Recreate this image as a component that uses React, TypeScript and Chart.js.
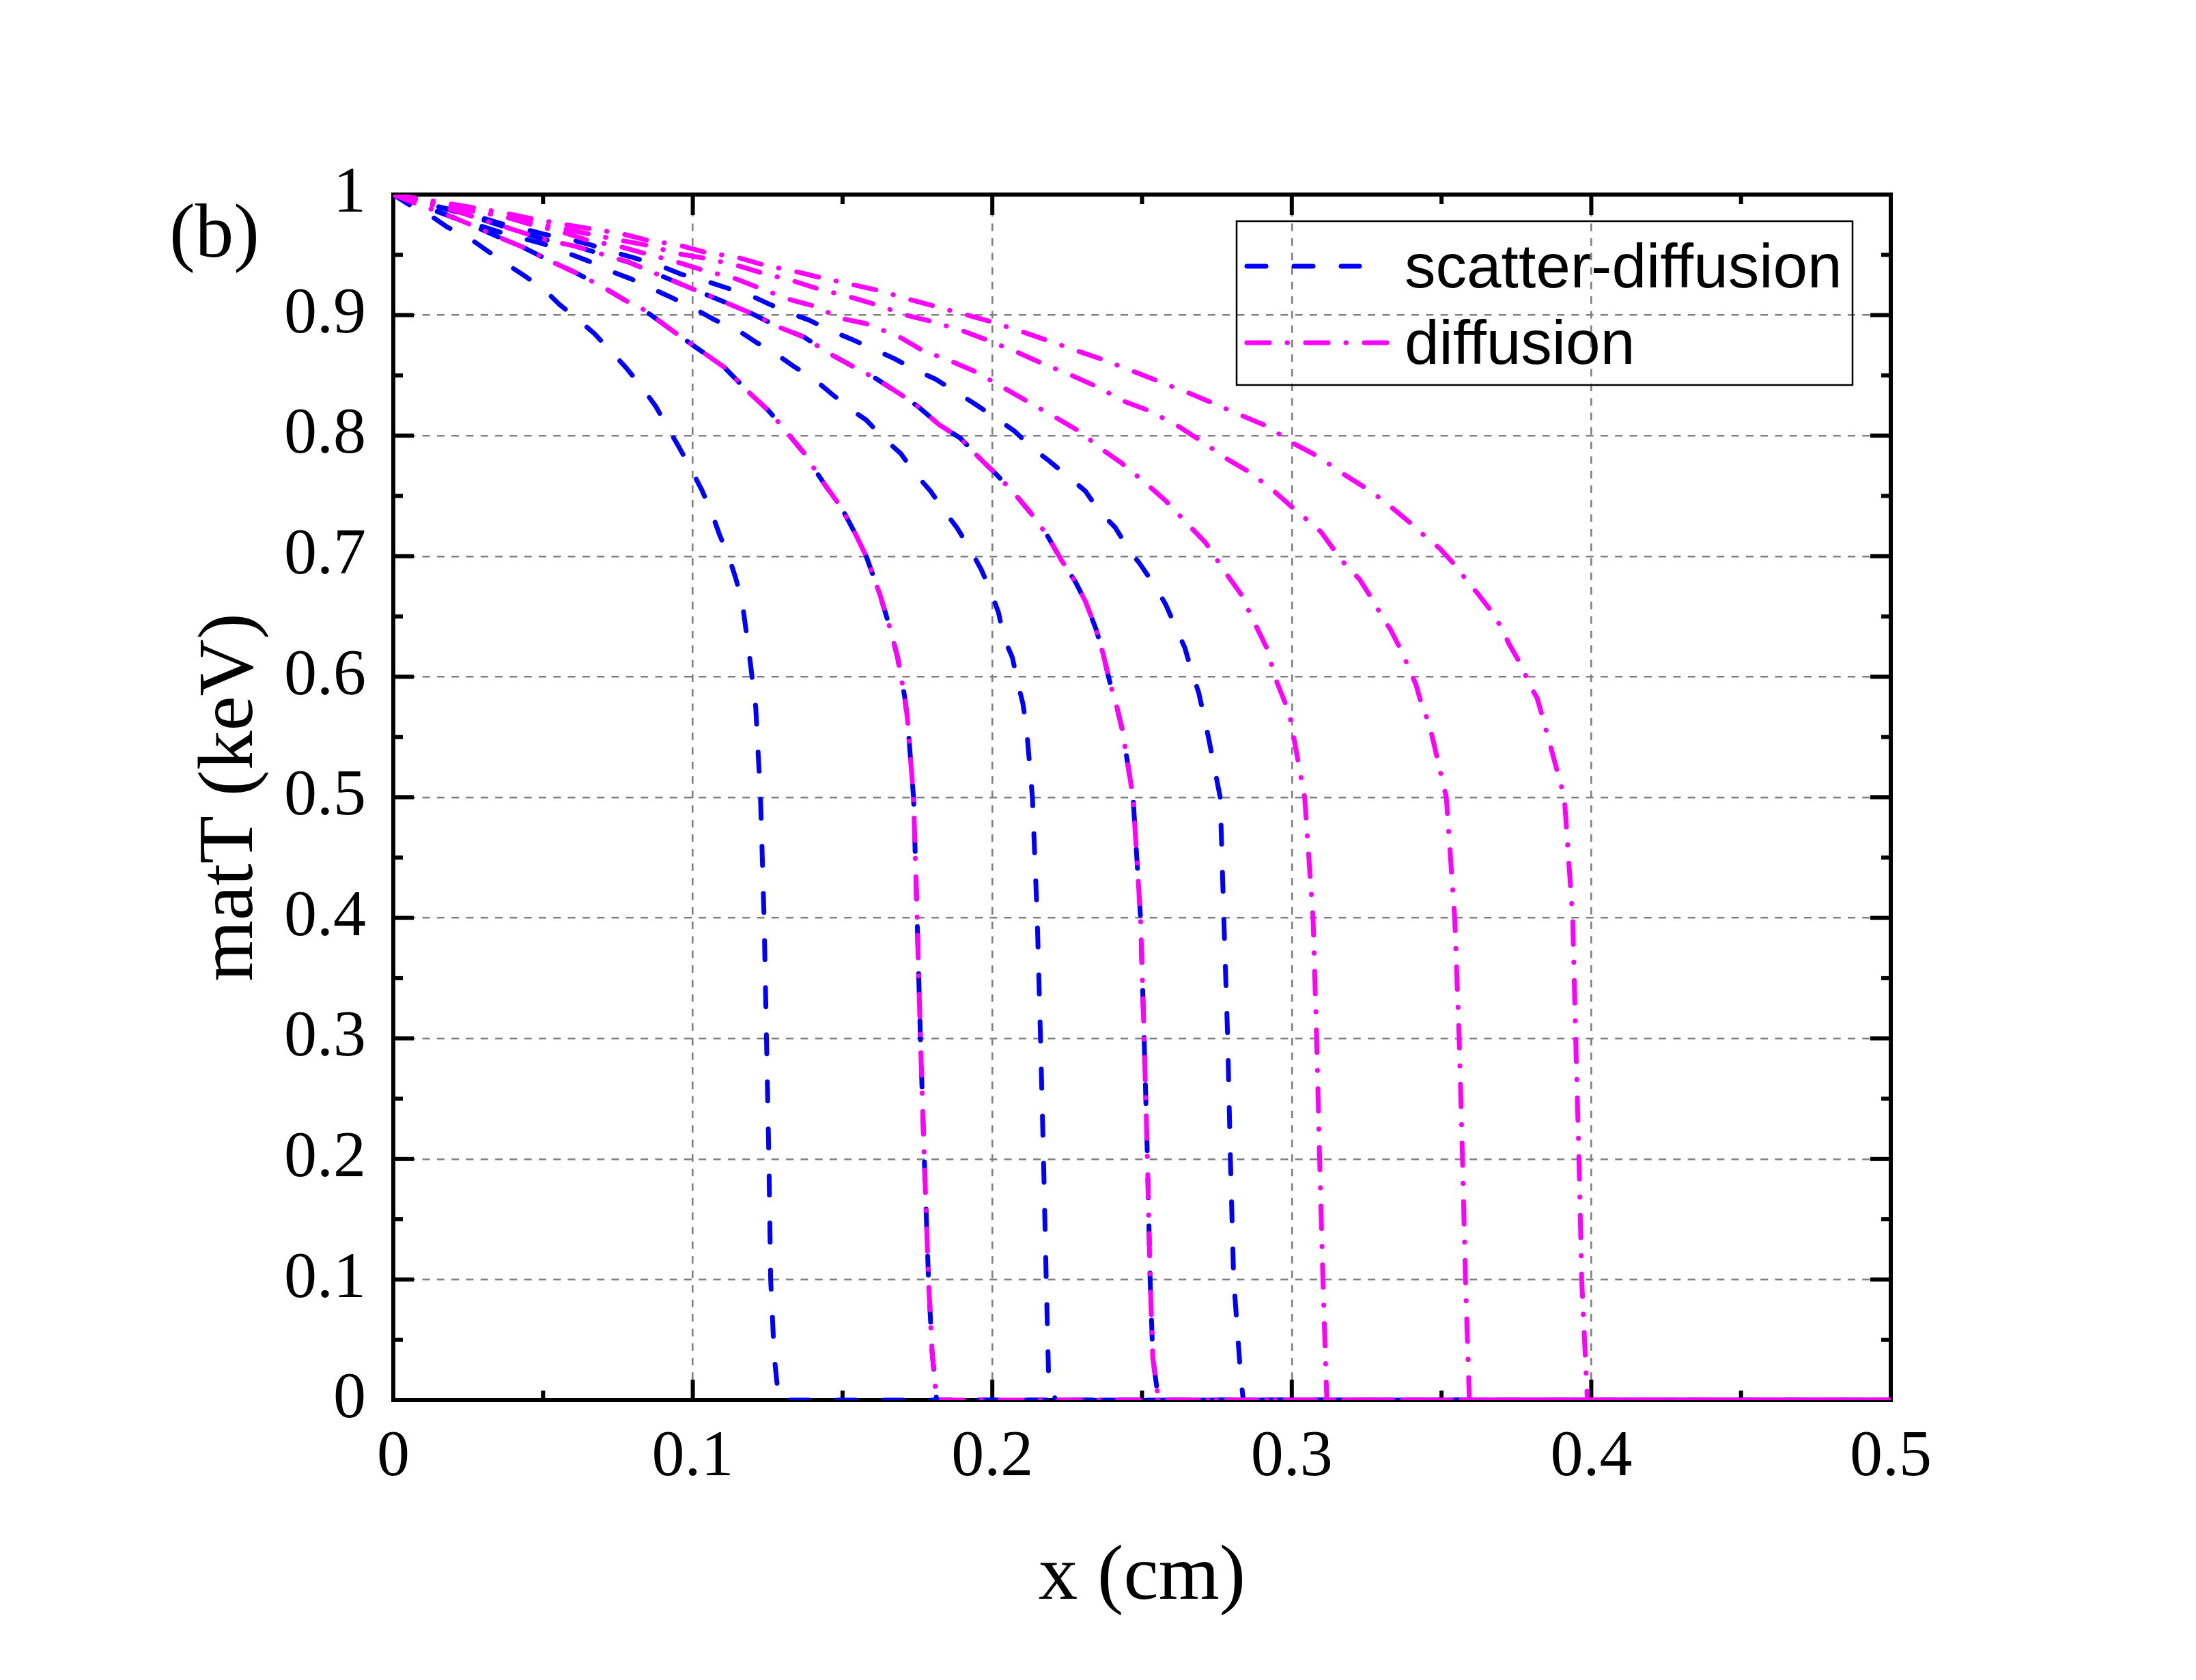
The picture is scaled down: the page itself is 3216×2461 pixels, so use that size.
import { useEffect, useRef } from "react";
import { Chart, registerables } from "chart.js";
import type { Plugin } from "chart.js";

Chart.register(...registerables);

type Pt = [number, number];

// axis ticks
const xTicks = [0, 0.1, 0.2, 0.3, 0.4, 0.5];
const xMinor = [0.05, 0.15, 0.25, 0.35, 0.45];
const yTicks = [0, 0.1, 0.2, 0.3, 0.4, 0.5, 0.6, 0.7, 0.8, 0.9, 1];
const yMinor = [0.05, 0.15, 0.25, 0.35, 0.45, 0.55, 0.65, 0.75, 0.85, 0.95];

const legendLabels = ["scatter-diffusion", "diffusion"];
const panelLabel = "(b)";

// scatter-diffusion only
const sdFront013: Pt[] = [
  [0, 1], [0.005, 0.992], [0.0122, 0.983], [0.018, 0.973], [0.0253, 0.964], [0.031, 0.954],
  [0.038, 0.942], [0.0436, 0.933], [0.0504, 0.921], [0.0554, 0.909], [0.0618, 0.896], [0.067, 0.885],
  [0.0727, 0.87], [0.0775, 0.857], [0.0831, 0.84], [0.0877, 0.824], [0.092, 0.805], [0.0955, 0.79],
  [0.0997, 0.771], [0.103, 0.755], [0.1063, 0.736], [0.1089, 0.718], [0.1121, 0.699], [0.1143, 0.682],
  [0.1165, 0.662], [0.119, 0.616], [0.121, 0.575], [0.1226, 0.5], [0.1238, 0.4], [0.1246, 0.3],
  [0.1254, 0.2], [0.126, 0.1], [0.1272, 0.036], [0.1287, 0], [0.5, 0],
];

// scatter-diffusion and diffusion lie on top of each other here
const front018: Pt[] = [
  [0, 1], [0.008, 0.992], [0.017, 0.984], [0.0249, 0.976], [0.0349, 0.965], [0.0427, 0.957],
  [0.0523, 0.945], [0.0602, 0.936], [0.0702, 0.923], [0.0776, 0.912], [0.0833, 0.905], [0.0938, 0.886],
  [0.1012, 0.873], [0.1104, 0.857], [0.1187, 0.836], [0.1252, 0.821], [0.13, 0.807], [0.137, 0.786],
  [0.1439, 0.76], [0.1497, 0.74], [0.1544, 0.718], [0.1579, 0.7], [0.1625, 0.668], [0.166, 0.639],
  [0.1684, 0.616], [0.1707, 0.584], [0.1716, 0.567], [0.1737, 0.5], [0.1749, 0.4], [0.176, 0.3],
  [0.1773, 0.2], [0.1787, 0.1], [0.1799, 0.04], [0.1814, 0], [0.5, 0],
];

const sdFront022: Pt[] = [
  [0, 1], [0.01, 0.99], [0.02, 0.981], [0.0279, 0.975], [0.0366, 0.968], [0.0502, 0.959],
  [0.0576, 0.952], [0.065, 0.945], [0.072, 0.937], [0.0794, 0.93], [0.0864, 0.922], [0.0934, 0.914],
  [0.1008, 0.905], [0.1073, 0.896], [0.1147, 0.888], [0.1208, 0.878], [0.1282, 0.867], [0.134, 0.857],
  [0.1404, 0.847], [0.1462, 0.835], [0.1526, 0.822], [0.1579, 0.813], [0.1637, 0.798], [0.1695, 0.785],
  [0.1741, 0.769], [0.1794, 0.754], [0.1835, 0.739], [0.1881, 0.724], [0.1928, 0.705], [0.1963, 0.689],
  [0.1995, 0.671], [0.2021, 0.653], [0.2038, 0.633], [0.2067, 0.616], [0.2085, 0.595], [0.2102, 0.578],
  [0.2114, 0.558], [0.2134, 0.5], [0.215, 0.4], [0.2161, 0.3], [0.2171, 0.2], [0.218, 0.1],
  [0.2188, 0.02], [0.2211, 0], [0.5, 0],
];

// again shared by both models
const front025: Pt[] = [
  [0, 1], [0.01, 0.993], [0.02, 0.987], [0.03, 0.979], [0.04, 0.971], [0.05, 0.963],
  [0.061, 0.957], [0.0785, 0.944], [0.0881, 0.934], [0.0929, 0.929], [0.1025, 0.919], [0.1095, 0.912],
  [0.1191, 0.902], [0.1288, 0.89], [0.137, 0.882], [0.145, 0.869], [0.153, 0.858], [0.1614, 0.847],
  [0.1695, 0.834], [0.1753, 0.824], [0.1823, 0.809], [0.1893, 0.798], [0.1963, 0.78], [0.2009, 0.769],
  [0.2067, 0.754], [0.2125, 0.737], [0.2184, 0.717], [0.223, 0.697], [0.2277, 0.679], [0.2312, 0.662],
  [0.2347, 0.639], [0.237, 0.619], [0.2393, 0.595], [0.2416, 0.575], [0.2435, 0.555], [0.247, 0.5],
  [0.2495, 0.4], [0.2507, 0.3], [0.2518, 0.2], [0.2527, 0.1], [0.2536, 0.035], [0.2555, 0], [0.5, 0],
];

const sdFront028: Pt[] = [
  [0, 1], [0.0131, 0.991], [0.0205, 0.986], [0.0279, 0.982], [0.0358, 0.976], [0.0427, 0.972],
  [0.0506, 0.967], [0.0589, 0.963], [0.0663, 0.958], [0.074, 0.952], [0.0811, 0.947], [0.089, 0.941],
  [0.096, 0.934], [0.1034, 0.929], [0.1108, 0.923], [0.1195, 0.916], [0.1247, 0.91], [0.132, 0.902],
  [0.1387, 0.896], [0.1462, 0.887], [0.153, 0.88], [0.161, 0.871], [0.1672, 0.864], [0.1747, 0.854],
  [0.181, 0.847], [0.1887, 0.835], [0.195, 0.825], [0.2015, 0.814], [0.2073, 0.804], [0.2137, 0.789],
  [0.219, 0.779], [0.2253, 0.766], [0.2311, 0.754], [0.2358, 0.737], [0.241, 0.724], [0.2457, 0.705],
  [0.2492, 0.694], [0.2544, 0.675], [0.2579, 0.66], [0.2614, 0.64], [0.2643, 0.624], [0.2666, 0.604],
  [0.2689, 0.587], [0.2707, 0.567], [0.2724, 0.547], [0.2761, 0.5], [0.2773, 0.4], [0.2786, 0.3],
  [0.2795, 0.2], [0.2806, 0.1], [0.283, 0.018], [0.2838, 0], [0.5, 0],
];

// diffusion only
const dFront031: Pt[] = [
  [0, 1], [0.01, 0.994], [0.02, 0.989], [0.0366, 0.982], [0.0462, 0.975], [0.0563, 0.969],
  [0.065, 0.962], [0.0755, 0.957], [0.0842, 0.951], [0.0947, 0.944], [0.1038, 0.937], [0.1134, 0.931],
  [0.1217, 0.923], [0.1323, 0.913], [0.1398, 0.908], [0.15, 0.897], [0.1578, 0.893], [0.1689, 0.882],
  [0.1765, 0.871], [0.187, 0.861], [0.1945, 0.853], [0.205, 0.838], [0.212, 0.828], [0.2213, 0.815],
  [0.2288, 0.804], [0.237, 0.788], [0.2428, 0.778], [0.2515, 0.76], [0.2579, 0.746], [0.2655, 0.726],
  [0.2713, 0.711], [0.2777, 0.687], [0.2829, 0.669], [0.2881, 0.642], [0.2916, 0.624], [0.2951, 0.595],
  [0.298, 0.577], [0.2994, 0.567], [0.3043, 0.5], [0.3071, 0.4], [0.3083, 0.3], [0.3093, 0.2],
  [0.3104, 0.1], [0.3117, 0], [0.5, 0],
];

const dFront036: Pt[] = [
  [0, 1], [0.01, 0.995], [0.02, 0.99], [0.0366, 0.982], [0.046, 0.977], [0.06, 0.97],
  [0.0759, 0.962], [0.0846, 0.958], [0.0951, 0.951], [0.1043, 0.947], [0.1143, 0.9415], [0.123, 0.935],
  [0.134, 0.928], [0.1416, 0.922], [0.1526, 0.915], [0.1608, 0.909], [0.1712, 0.9], [0.1794, 0.895],
  [0.19, 0.887], [0.1986, 0.879], [0.2085, 0.869], [0.2166, 0.86], [0.2265, 0.85], [0.2346, 0.841],
  [0.2445, 0.828], [0.2521, 0.821], [0.262, 0.808], [0.2695, 0.796], [0.2788, 0.78], [0.2864, 0.769],
  [0.2945, 0.753], [0.3011, 0.7385], [0.3057, 0.729], [0.3098, 0.72], [0.3145, 0.704], [0.3185, 0.691],
  [0.3226, 0.681], [0.3272, 0.663], [0.3301, 0.65], [0.333, 0.639], [0.3371, 0.619], [0.3391, 0.607],
  [0.3414, 0.594], [0.3437, 0.574], [0.3458, 0.562], [0.3516, 0.5], [0.3544, 0.4], [0.3559, 0.3],
  [0.357, 0.2], [0.358, 0.1], [0.3593, 0], [0.5, 0],
];

const dFront040: Pt[] = [
  [0, 1], [0.01, 0.996], [0.02, 0.992], [0.0366, 0.985], [0.0462, 0.98], [0.06, 0.974],
  [0.0763, 0.9675], [0.085, 0.962], [0.0955, 0.958], [0.1043, 0.952], [0.1147, 0.948], [0.1239, 0.9415],
  [0.1346, 0.936], [0.1428, 0.931], [0.1538, 0.925], [0.162, 0.9205], [0.1724, 0.913], [0.1806, 0.9075],
  [0.1916, 0.9], [0.1997, 0.8945], [0.2102, 0.886], [0.2184, 0.879], [0.2288, 0.87], [0.237, 0.863],
  [0.2474, 0.853], [0.2556, 0.845], [0.266, 0.835], [0.2736, 0.827], [0.2835, 0.8165], [0.2916, 0.808],
  [0.301, 0.793], [0.3086, 0.783], [0.318, 0.767], [0.325, 0.756], [0.329, 0.749], [0.3336, 0.74],
  [0.3406, 0.7255], [0.345, 0.7154], [0.3493, 0.7067], [0.3552, 0.6908], [0.3586, 0.679], [0.3621, 0.669],
  [0.3674, 0.652], [0.3703, 0.639], [0.3726, 0.627], [0.3772, 0.607], [0.379, 0.595], [0.3819, 0.5825],
  [0.3837, 0.567], [0.391, 0.5], [0.3938, 0.4], [0.3948, 0.3], [0.3959, 0.2], [0.3968, 0.1],
  [0.3987, 0], [0.5, 0],
];

const scatterDiffusion = [sdFront013, front018, sdFront022, front025, sdFront028];
const diffusion = [front018, front025, dFront031, dFront036, dFront040];

const BLUE = "#0000ff";
const MAGENTA = "#ff00ff";
const LINE_W = 7;
const DASH = [28, 41];
const DASH_DOT = [33, 26, 0.5, 26.5];
const GRID_DASH = [11, 10.3];

const serif = "'Liberation Serif', 'Times New Roman', serif";
const sans = "'Liberation Sans', Arial, sans-serif";

// black frame with inward ticks on all four sides
const framePlugin: Plugin<"line"> = {
  id: "frame",
  beforeDatasetsDraw(chart) {
    const { ctx, chartArea } = chart;
    const { left, right, top, bottom } = chartArea;
    const xs = chart.scales.x;
    const ys = chart.scales.y;
    ctx.save();
    ctx.strokeStyle = "#000";
    ctx.lineWidth = 6;
    ctx.setLineDash([]);
    ctx.strokeRect(left, top, right - left, bottom - top);
    const tick = (x1: number, y1: number, x2: number, y2: number) => {
      ctx.beginPath();
      ctx.moveTo(x1, y1);
      ctx.lineTo(x2, y2);
      ctx.stroke();
    };
    xTicks.forEach((v) => {
      const p = xs.getPixelForValue(v);
      tick(p, bottom, p, bottom - 30);
      tick(p, top, p, top + 30);
    });
    xMinor.forEach((v) => {
      const p = xs.getPixelForValue(v);
      tick(p, bottom, p, bottom - 14);
      tick(p, top, p, top + 14);
    });
    yTicks.forEach((v) => {
      const p = ys.getPixelForValue(v);
      tick(left, p, left + 30, p);
      tick(right, p, right - 30, p);
    });
    yMinor.forEach((v) => {
      const p = ys.getPixelForValue(v);
      tick(left, p, left + 14, p);
      tick(right, p, right - 14, p);
    });
    ctx.restore();
  },
};

// panel label and the boxed legend
const overlayPlugin: Plugin<"line"> = {
  id: "overlay",
  afterDraw(chart) {
    const { ctx, chartArea } = chart;
    ctx.save();
    ctx.fillStyle = "#000";
    ctx.font = `113px ${serif}`;
    ctx.textBaseline = "alphabetic";
    ctx.textAlign = "left";
    ctx.fillText(panelLabel, chartArea.left - 328, chartArea.top + 91);

    const boxW = 902;
    const boxH = 240;
    const bx = chartArea.right - 56 - boxW;
    const by = chartArea.top + 39;
    ctx.lineWidth = 2.5;
    ctx.strokeStyle = "#000";
    ctx.setLineDash([]);
    ctx.strokeRect(bx, by, boxW, boxH);

    const rows = [
      { color: BLUE, dash: DASH, len: 165 },
      { color: MAGENTA, dash: DASH_DOT, len: 205 },
    ];
    ctx.font = `91px ${sans}`;
    rows.forEach((r, i) => {
      const cy = by + 66 + i * 112;
      ctx.strokeStyle = r.color;
      ctx.lineWidth = LINE_W;
      ctx.lineCap = "round";
      ctx.setLineDash(r.dash);
      ctx.beginPath();
      ctx.moveTo(bx + 15, cy);
      ctx.lineTo(bx + 15 + r.len, cy);
      ctx.stroke();
      ctx.fillStyle = "#000";
      ctx.fillText(legendLabels[i], bx + 246, cy + 31);
    });
    ctx.restore();
  },
};

export default function App() {
  const canvasRef = useRef<HTMLCanvasElement | null>(null);
  const chartRef = useRef<Chart | null>(null);

  useEffect(() => {
    const canvas = canvasRef.current;
    if (!canvas) return;

    if (chartRef.current) {
      chartRef.current.destroy();
      chartRef.current = null;
    }

    const toXY = (pts: Pt[]) => pts.map(([x, y]) => ({ x, y }));

    const datasets = [
      ...diffusion.map((pts, i) => ({
        label: i === 0 ? legendLabels[1] : `${legendLabels[1]} ${i + 1}`,
        data: toXY(pts),
        borderColor: MAGENTA,
        borderWidth: LINE_W,
        borderDash: DASH_DOT,
        borderCapStyle: "round" as const,
        borderJoinStyle: "round" as const,
        pointRadius: 0,
        tension: 0,
        fill: false,
      })),
      ...scatterDiffusion.map((pts, i) => ({
        label: i === 0 ? legendLabels[0] : `${legendLabels[0]} ${i + 1}`,
        data: toXY(pts),
        borderColor: BLUE,
        borderWidth: LINE_W,
        borderDash: DASH,
        borderCapStyle: "round" as const,
        borderJoinStyle: "round" as const,
        pointRadius: 0,
        tension: 0,
        fill: false,
      })),
    ];

    chartRef.current = new Chart(canvas, {
      type: "line",
      data: { datasets },
      plugins: [framePlugin, overlayPlugin],
      options: {
        animation: false,
        responsive: false,
        layout: { padding: { left: 0, right: 447, top: 285, bottom: 0 } },
        plugins: {
          legend: { display: false },
          tooltip: { enabled: false },
        },
        scales: {
          x: {
            type: "linear",
            min: 0,
            max: 0.5,
            afterBuildTicks: (s) => {
              s.ticks = xTicks.map((value) => ({ value }));
            },
            afterFit: (s) => {
              s.height = 410;
            },
            grid: { color: "#808080", lineWidth: 2.6, drawTicks: false },
            border: { display: false, dash: GRID_DASH },
            ticks: {
              color: "#000",
              padding: 27,
              maxRotation: 0,
              font: { family: serif, size: 96 },
              callback: (v) => String(v),
            },
            title: {
              display: true,
              text: "x (cm)",
              color: "#000",
              font: { family: serif, size: 115 },
              padding: { top: 0, bottom: 80 },
            },
          },
          y: {
            type: "linear",
            min: 0,
            max: 1,
            afterBuildTicks: (s) => {
              s.ticks = yTicks.map((value) => ({ value }));
            },
            afterFit: (s) => {
              s.width = 576;
            },
            grid: { color: "#808080", lineWidth: 2.6, drawTicks: false },
            border: { display: false, dash: GRID_DASH },
            ticks: {
              color: "#000",
              padding: 40,
              font: { family: serif, size: 96 },
              callback: (v) => String(v),
            },
            title: {
              display: true,
              text: "matT (keV)",
              color: "#000",
              font: { family: serif, size: 115 },
              padding: { top: 270, bottom: 0 },
            },
          },
        },
      },
    });

    return () => {
      if (chartRef.current) {
        chartRef.current.destroy();
        chartRef.current = null;
      }
    };
  }, []);

  return (
    <div style={{ position: "absolute", left: 0, top: 0, width: 3216, height: 2461, background: "#fff" }}>
      <canvas ref={canvasRef} width={3216} height={2461} style={{ display: "block" }} />
    </div>
  );
}
